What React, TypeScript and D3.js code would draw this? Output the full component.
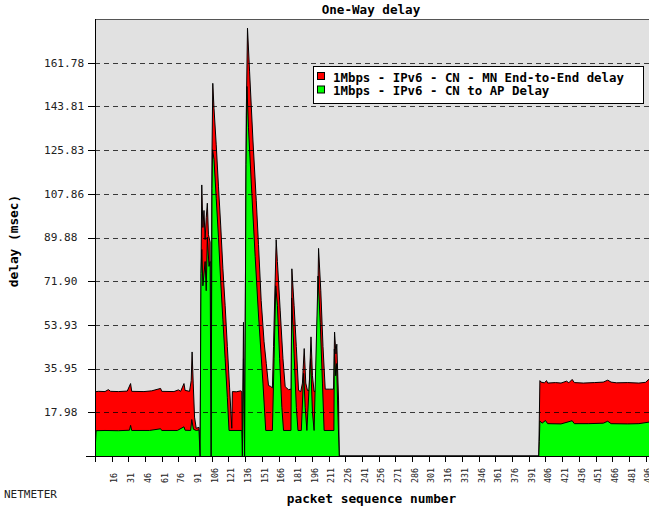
import React from "react";
import * as d3 from "d3";

// ---- data ----
const chartTitle = "One-Way delay";
const seriesNames = ["1Mbps - IPv6 - CN - MN End-to-End delay", "1Mbps - IPv6 - CN to AP Delay"];
const yTickValues = [17.98, 35.95, 53.93, 71.9, 89.88, 107.86, 125.83, 143.81, 161.78];
const yTickLabels = ["17.98", "35.95", "53.93", "71.90", "89.88", "107.86", "125.83", "143.81", "161.78"];
const xTickValues = [1, 16, 31, 46, 61, 76, 91, 106, 121, 136, 151, 166, 181, 196, 211, 226, 241, 256, 271, 286, 301, 316, 331, 346, 361, 376, 391, 406, 421, 436, 451, 466, 481, 496];

// [packet, delay ms] vertices of the End-to-End series
const e2eDelay: [number, number][] = [
  [1, 26.4], [4, 26.6], [10, 26.5], [13, 27.3], [15, 26.6], [22, 26.5], [30, 26.7], [33, 29.8], [34, 26.6],
  [45, 26.5], [52, 26.8], [60, 27.8], [61, 26.6], [72, 26.5], [76, 27.2], [78, 26.6], [81, 29.8], [82, 27.0],
  [86, 26.6], [87.5, 31], [88.3, 42.8], [89.3, 30], [90.5, 16], [92, 11.4], [94.5, 11.8], [95.5, 0],
  [96.5, 85], [97, 111.5], [98, 94], [99, 101], [100, 89], [101, 98], [102, 104], [103, 91], [104.5, 88],
  [105.4, 0], [106.2, 125], [106.9, 153.3], [108, 143], [110, 128], [112, 111], [114, 95], [116, 77],
  [118, 62], [120, 45], [122, 28], [124, 11.4], [124.5, 26.5], [128, 26.4], [132, 26.8], [133, 26.5],
  [133.5, 0], [134.5, 55], [135.5, 0], [137, 140], [138.1, 176], [140, 158], [143, 130], [146, 105],
  [148, 87], [150.4, 64], [153, 47], [155, 38], [157, 29], [159, 28.6], [160.5, 28], [161.5, 45],
  [163.9, 89], [165, 80], [167.5, 60], [170, 40], [172, 28.5], [175, 27.3], [177.4, 27.5], [178, 77],
  [180, 62], [182, 45], [184, 27], [186, 26.5], [187.5, 30], [189.1, 44.2], [190.5, 30], [192, 27],
  [193.5, 27], [195.2, 49], [196.5, 33], [198, 26.5], [200, 27], [202, 85.4], [204, 68], [206, 45],
  [208, 27.5], [212, 27.5], [215.5, 27.5], [216.4, 51], [217.6, 42], [218.4, 46], [220, 23], [220.6, 0],
  [400, 0], [401, 31], [402, 30.4], [405, 30.1], [407, 31], [408, 30], [415, 30.2], [420, 30],
  [425, 30.8], [427, 30.1], [430, 31.5], [432, 30.2], [440, 30], [450, 30.2], [458, 30.4], [462, 31.2],
  [465, 30.4], [470, 30.1], [480, 30.2], [490, 30], [496, 30.3], [500, 32],
];

// [packet, delay ms] vertices of the CN-to-AP series
const apDelay: [number, number][] = [
  [1, 1.5], [2, 10.4], [10, 10.5], [22, 10.4], [32, 10.6], [33, 12.6], [34, 10.5], [50, 10.5], [60, 11.2],
  [61, 10.5], [75, 10.5], [81, 12], [82, 10.6], [87, 10.5], [88, 15], [89.5, 11], [92, 10.5], [94.5, 10.7],
  [95.5, 0], [96.3, 75], [97, 85], [98, 70], [100, 80], [101, 68], [102, 90], [103.5, 78], [104.5, 80],
  [105.4, 0], [106.2, 110], [106.7, 126], [108, 122], [110, 106], [112, 90], [114, 72], [116, 56],
  [118, 40], [120, 24], [121.5, 10.5], [133, 10.5], [133.5, 0], [134.5, 40], [135.5, 0], [136.8, 120],
  [137.6, 152], [139, 135], [142, 108], [145, 82], [148, 58], [150, 44], [152, 30], [154.5, 10.5],
  [160.5, 10.5], [162, 40], [163.5, 70], [165, 62], [167, 40], [169, 20], [170.5, 10.5], [177.2, 10.5],
  [177.8, 65], [180, 42], [182, 20], [183.5, 10.5], [186.5, 10.5], [188.6, 34], [190, 20], [191.5, 10.5],
  [194.8, 40], [196.5, 18], [198, 10.5], [201.5, 74], [203.5, 55], [205.5, 30], [207, 10.5],
  [215.8, 10.5], [216.2, 44], [217.4, 33], [218.2, 38], [219.5, 16], [220.6, 0], [400, 0], [400.5, 6],
  [401, 14.4], [403, 13.5], [406, 14.6], [408, 13.3], [420, 13.2], [430, 14.5], [432, 13.3], [445, 13.3],
  [458, 13.5], [462, 14.3], [465, 13.3], [480, 13.2], [490, 13.3], [500, 14],
];

const W = 649;
const H = 510;
const PL = 95;
const PR = 650;
const PT = 19;
const PB = 456;
const MONO = "'DejaVu Sans Mono', monospace";

export default function App() {
  const x = d3.scaleLinear().domain([1, 500]).range([PL, PR]);
  const y = d3.scaleLinear().domain([0, 179.76]).range([PB, PT]);

  const area = d3
    .area<[number, number]>()
    .x((d) => x(d[0]))
    .y0(y(0))
    .y1((d) => y(d[1]));
  const line = d3
    .line<[number, number]>()
    .x((d) => x(d[0]))
    .y((d) => y(d[1]));

  const colors = ["#ff0000", "#00ff00"];

  return (
    <svg
      width={W}
      height={H}
      style={{ position: "absolute", left: 0, top: 0, background: "#fff" }}
    >
      <defs>
        <clipPath id="plotClip">
          <rect x={PL} y={PT} width={PR - PL} height={PB - PT} />
        </clipPath>
      </defs>
      <rect x={PL} y={PT} width={PR - PL} height={PB - PT} fill="#e1e1e1" />
      <g clipPath="url(#plotClip)">
        <path d={area(e2eDelay) || ""} fill={colors[0]} />
        <path d={line(e2eDelay) || ""} fill="none" stroke="#000" strokeWidth={1} />
        <path d={area(apDelay) || ""} fill={colors[1]} />
        <path d={line(apDelay) || ""} fill="none" stroke="#000" strokeWidth={1} />
        {yTickValues.map((v) => (
          <line
            key={v}
            x1={PL}
            x2={PR}
            y1={Math.round(y(v)) + 0.5}
            y2={Math.round(y(v)) + 0.5}
            stroke="#000"
            strokeOpacity={0.75}
            strokeDasharray="5,4"
          />
        ))}
      </g>
      {/* frame */}
      <line x1={PL} x2={PR} y1={PT + 0.5} y2={PT + 0.5} stroke="#555" />
      <line x1={PL + 0.5} x2={PL + 0.5} y1={PT} y2={PB + 6} stroke="#000" />
      <line x1={86} x2={PR} y1={PB + 0.5} y2={PB + 0.5} stroke="#000" />
      {/* y ticks & labels */}
      {yTickValues.map((v, i) => (
        <g key={v}>
          <line x1={88} x2={PL} y1={Math.round(y(v)) + 0.5} y2={Math.round(y(v)) + 0.5} stroke="#000" />
          <text x={44} y={y(v) + 3.8} fontFamily={MONO} fontSize={11.1} fill="#222">
            {yTickLabels[i]}
          </text>
        </g>
      ))}
      {/* x ticks & labels */}
      {xTickValues.map((v) => (
        <g key={v}>
          <line x1={Math.round(x(v)) + 0.5} x2={Math.round(x(v)) + 0.5} y1={PB} y2={PB + 6} stroke="#000" />
          {v !== 1 && (
            <text
              transform={`translate(${x(v) + 5.8},483) rotate(-90)`}
              fontFamily={MONO}
              fontSize={8.3}
              fill="#222"
            >
              {v}
            </text>
          )}
        </g>
      ))}
      {/* titles */}
      <text x={371} y={14} textAnchor="middle" fontFamily={MONO} fontWeight="bold" fontSize={12.6} fill="#000">
        {chartTitle}
      </text>
      <text x={371.5} y={503} textAnchor="middle" fontFamily={MONO} fontWeight="bold" fontSize={12.8} fill="#000">
        packet sequence number
      </text>
      <text
        transform="translate(18,241) rotate(-90)"
        textAnchor="middle"
        fontFamily={MONO}
        fontWeight="bold"
        fontSize={12.8}
        fill="#000"
      >
        delay (msec)
      </text>
      <text x={4} y={498} fontFamily={MONO} fontSize={11} fill="#222">
        NETMETER
      </text>
      {/* legend */}
      <rect x={313.5} y={66.5} width={330} height={37} fill="#fff" stroke="#000" />
      {seriesNames.map((name, i) => (
        <g key={name}>
          <rect x={317.5} y={72.5 + i * 13.5} width={7} height={7} fill={colors[i]} stroke="#000" />
          <text x={333} y={81.5 + i * 13.5} fontFamily={MONO} fontWeight="bold" fontSize={12.4} fill="#000">
            {name}
          </text>
        </g>
      ))}
    </svg>
  );
}
